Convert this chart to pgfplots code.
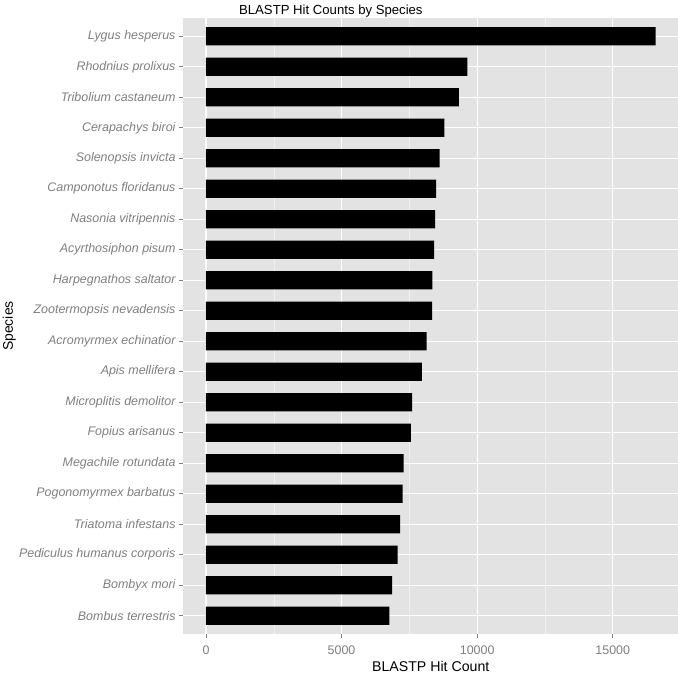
\documentclass[border=0pt]{standalone}
\usepackage{fontspec}
\setmainfont{Liberation Sans}
\usepackage{pgfplots}
\pgfplotsset{compat=1.18}
\definecolor{panelgrey}{HTML}{E3E3E3}
\definecolor{minorgrid}{HTML}{F0F0F0}
\definecolor{axisgrey}{HTML}{7F7F7F}
\begin{document}
\begin{tikzpicture}
\begin{axis}[
  scale only axis,
  width=494.5bp, height=616bp,
  xbar, bar width=0.6,
  xmin=-829, xmax=17406,
  ymin=0.4, ymax=20.6,
  y dir=reverse,
  axis background/.style={fill=panelgrey},
  axis line style={draw=none},
  tick align=outside, tick pos=left,
  major tick length=4.3bp, minor tick length=0pt,
  every tick/.style={axisgrey, line width=0.6bp},
  xtick={0,5000,10000,15000},
  minor xtick={2500,7500,12500},
  ytick={1,...,20},
  yticklabels={Lygus hesperus,Rhodnius prolixus,Tribolium castaneum,Cerapachys biroi,Solenopsis invicta,Camponotus floridanus,Nasonia vitripennis,Acyrthosiphon pisum,Harpegnathos saltator,Zootermopsis nevadensis,Acromyrmex echinatior,Apis mellifera,Microplitis demolitor,Fopius arisanus,Megachile rotundata,Pogonomyrmex barbatus,Triatoma infestans,Pediculus humanus corporis,Bombyx mori,Bombus terrestris},
  scaled x ticks=false,
  xticklabel={\pgfmathprintnumber[fixed,1000 sep={}]{\tick}},
  /pgf/number format/assume math mode=true,
  ticklabel style={color=axisgrey, font=\fontsize{12.5}{14}\selectfont},
  yticklabel style={font=\fontsize{12.5}{14}\selectfont\itshape, inner sep=3.5bp},
  xticklabel style={yshift=-4bp},
  grid=both,
  major grid style={white, line width=1.1bp},
  minor grid style={minorgrid, line width=0.5bp},
  every axis title shift=0pt,
  title={BLASTP Hit Counts by Species},
  title style={at={(axis description cs:0.298,1)}, anchor=base, yshift=4bp, font=\fontsize{13.2}{15}\selectfont},
  xlabel={BLASTP Hit Count},
  xlabel style={at={(axis description cs:0.5,-0.0612)}, anchor=base, font=\fontsize{14.2}{16}\selectfont},
  ylabel={Species},
  ylabel style={at={(axis description cs:-0.3448,0.5)}, anchor=base, font=\fontsize{14}{16}\selectfont},
]
\addplot[fill=black, draw=none] coordinates {
  (16580,1) (9640,2) (9330,3) (8790,4) (8620,5)
  (8490,6) (8450,7) (8410,8) (8350,9) (8340,10)
  (8140,11) (7960,12) (7600,13) (7560,14) (7290,15)
  (7250,16) (7160,17) (7070,18) (6860,19) (6760,20)
};
\end{axis}
\pgfresetboundingbox
\path (-183.5bp,-40bp) rectangle (494.5bp,634bp);
\end{tikzpicture}
\end{document}
